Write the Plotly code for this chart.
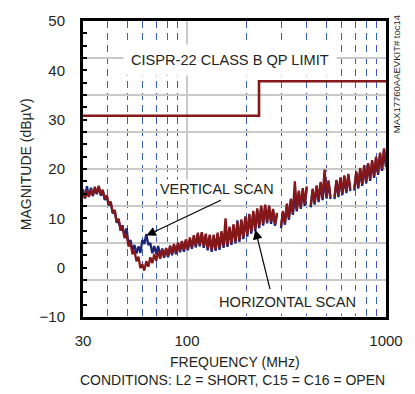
import math
import plotly.graph_objects as go

# Radiated emissions sweep, 30 MHz to 1 GHz
freq_mhz = [
    30.0, 30.7, 31.4, 32.1, 32.9, 33.6, 34.4, 35.2, 36.0, 36.9,
    37.7, 38.6, 39.5, 40.4, 41.3, 42.3, 43.3, 44.3, 45.3, 46.4,
    47.4, 48.5, 49.7, 50.8, 52.0, 53.2, 54.4, 55.7, 57.0, 58.3,
    59.6, 61.0, 62.4, 63.9, 65.4, 66.9, 68.4, 70.0, 71.6, 73.3,
    75.0, 76.7, 78.5, 80.3, 82.2, 84.1, 86.0, 88.0, 90.1, 92.2,
    94.3, 96.5, 98.7, 101.0, 103.4, 105.8, 108.2, 110.7, 113.3, 115.9,
    118.6, 121.4, 124.2, 127.0, 130.0, 133.0, 136.1, 139.2, 142.4, 145.7,
    149.1, 152.6, 156.1, 159.7, 163.4, 167.2, 171.1, 175.1, 179.1, 183.3,
    187.5, 191.9, 196.3, 200.9, 205.5, 210.3, 215.2, 220.2, 225.3, 230.5,
    235.8, 241.3, 246.9, 252.6, 258.5, 264.5, 270.6, 276.9, 283.3, 289.9,
    296.6, 303.5, 310.5, 317.7, 325.1, 332.6, 340.3, 348.2, 356.3, 364.6,
    373.0, 381.7, 390.5, 399.6, 408.8, 418.3, 428.0, 437.9, 448.1, 458.5,
    469.1, 480.0, 491.1, 502.5, 514.2, 526.1, 538.3, 550.8, 563.6, 576.6,
    590.0, 603.7, 617.7, 632.0, 646.7, 661.7, 677.0, 692.7, 708.8, 725.2,
    742.0, 759.3, 776.9, 794.9, 813.4, 832.3, 851.6, 871.3, 891.5, 912.2,
    933.4, 955.0, 977.2, 1000.0,
]

# Horizontal antenna polarisation (dBuV); None marks the band-switch gaps
horizontal_dbuv = [
    15.6, 14.1, 15.6, 14.4, 15.8, 14.7, 16.4, 15.1, 16.6, 14.8,
    15.8, 13.9, 14.7, 12.8, 13.4, 11.2, 11.7, 9.3, 9.9, 7.6,
    8.3, 6.0, 6.7, 4.3, 5.0, 2.7, 3.5, 1.3, 2.2, -0.1,
    0.7, -0.6, 1.3, 0.2, 2.1, 0.9, 2.7, 1.4, 3.3, 1.8,
    3.7, 2.2, 4.0, 2.4, 4.5, 2.8, 4.8, 3.0, 5.1, 3.4,
    5.4, 3.6, 5.7, 3.8, 6.1, 4.2, 6.6, 4.5, 7.1, 4.7,
    7.2, 4.4, 6.9, 3.9, 6.7, 3.6, 6.7, 3.8, 7.1, 4.0,
    7.4, 4.4, 10.0, 4.6, 8.3, 5.0, 8.8, 5.3, 9.2, 5.6,
    9.8, 6.2, 10.4, 6.7, 10.9, 7.3, 11.5, 7.8, 12.0, 8.4,
    12.6, 8.9, 12.8, 9.4, 12.6, 9.3, 11.9, 8.9, 11.1, None,
    8.4, 11.5, 9.1, 13.0, 10.1, 14.0, 11.1, 17.5, 11.8, 15.6,
    12.3, 16.1, 12.9, 16.5, None, 12.6, 16.0, 13.2, 16.7, 13.7,
    17.4, 14.1, 19.9, 14.4, 17.7, 14.3, None, 14.3, 17.8, 14.7,
    18.3, 15.1, 18.7, 15.5, 19.0, 15.9, None, 16.0, 19.5, 16.4,
    20.2, 17.0, 20.8, 17.5, 21.2, 18.0, 21.8, 18.6, 22.5, 19.2,
    23.3, 20.0, 24.2, 20.8,
]

# Vertical antenna polarisation (dBuV)
vertical_dbuv = [
    15.9, 14.0, 16.5, 14.3, 16.2, 14.5, 16.0, 14.9, 16.3, 14.6,
    15.5, 13.7, 14.5, 12.6, 13.3, 11.0, 11.5, 9.1, 9.7, 7.5,
    8.6, 6.3, 8.0, 4.6, 5.6, 3.4, 4.6, 2.9, 4.3, 3.0,
    5.6, 4.8, 6.8, 4.6, 5.0, 2.9, 4.4, 2.8, 4.4, 2.3,
    3.9, 2.0, 3.8, 2.1, 4.3, 2.5, 4.6, 2.7, 4.9, 3.1,
    5.2, 3.2, 5.6, 3.5, 5.8, 3.8, 6.4, 4.1, 6.8, 4.3,
    7.0, 4.0, 6.6, 3.5, 6.4, 3.2, 6.4, 3.4, 6.8, 3.6,
    7.1, 4.0, 8.0, 4.2, 8.0, 4.6, 8.6, 4.9, 9.6, 5.2,
    9.5, 5.8, 10.1, 6.3, 10.6, 6.9, 11.2, 7.4, 11.7, 8.0,
    12.3, 8.5, 12.5, 9.0, 12.3, 8.9, 11.6, 8.5, 10.8, None,
    8.0, 11.2, 8.7, 12.7, 9.7, 13.7, 10.7, 14.2, 11.4, 15.3,
    11.9, 15.8, 12.5, 16.2, None, 12.2, 15.7, 12.8, 16.4, 13.3,
    17.1, 13.7, 17.8, 14.0, 17.4, 13.9, None, 13.9, 17.5, 14.3,
    18.0, 14.7, 18.4, 15.1, 18.7, 15.5, None, 15.6, 19.2, 16.0,
    19.9, 16.6, 20.5, 17.1, 20.9, 17.6, 21.5, 18.2, 22.2, 18.8,
    23.0, 19.6, 23.9, 20.4,
]

# CISPR-22 class B quasi-peak limit
limit_freq_mhz = [30, 230, 1000]
limit_dbuv = [30.8, 37.8, 37.8]

# Axis ticks and grids
x_tick_vals = [30, 100, 1000]
x_tick_text = ["30", "100", "1000"]
x_dashed_grid = [40, 50, 60, 70, 80, 90, 200, 300, 400, 500, 600, 700, 800, 900]
y_range = [-10, 50]
x_range = [math.log10(30), math.log10(1000)]

# Arrow targets on the traces (MHz, dBuV)
vertical_arrow_at = (62.4, 6.5)
horizontal_arrow_at = (220.5, 7.7)

FONT = "Liberation Sans, Arial, sans-serif"
TEXT = "#231F20"
RED = "#861719"
NAVY = "#1D2577"

fig = go.Figure()

# carrier trace so the overlay grid axes are drawn
fig.add_trace(go.Scatter(x=[], y=[], xaxis="x2", yaxis="y2",
                         showlegend=False, hoverinfo="skip"))

fig.add_trace(go.Scatter(x=freq_mhz, y=vertical_dbuv, mode="lines",
                         line=dict(color=NAVY, width=2.3),
                         connectgaps=False, name="VERTICAL SCAN"))
fig.add_trace(go.Scatter(x=freq_mhz, y=horizontal_dbuv, mode="lines",
                         line=dict(color=RED, width=2.3),
                         connectgaps=False, name="HORIZONTAL SCAN"))
fig.add_trace(go.Scatter(x=limit_freq_mhz, y=limit_dbuv, mode="lines",
                         line=dict(color=RED, width=2.6, shape="hv"),
                         name="CISPR-22 CLASS B QP LIMIT"))

fig.update_layout(
    width=415, height=394,
    margin=dict(l=83, r=26, t=12, b=77),
    paper_bgcolor="white", plot_bgcolor="white",
    showlegend=False,
    font=dict(family=FONT, size=15, color=TEXT),
    xaxis=dict(
        type="log", range=x_range,
        tickmode="array", tickvals=x_tick_vals, ticktext=x_tick_text,
        showgrid=True, gridcolor="#C9C9C9", gridwidth=1.5,
        showline=True, linecolor="black", linewidth=3, mirror=True,
        ticks="", ticklabelstandoff=8, zeroline=False,
        tickfont=dict(size=15),
    ),
    xaxis2=dict(
        type="log", range=x_range, overlaying="x", anchor="y",
        tickmode="array", tickvals=x_dashed_grid,
        showticklabels=False, ticks="",
        showgrid=True, gridcolor="#3F5DBE", gridwidth=1,
        griddash="7px,5px", showline=False, zeroline=False,
    ),
    yaxis=dict(
        range=y_range, tick0=-10, dtick=10,
        showgrid=False, zeroline=False,
        showline=True, linecolor="black", linewidth=3, mirror=True,
        ticks="inside", ticklen=4, tickwidth=1.5, tickcolor="black",
        minor=dict(tick0=-10, dtick=2.5, ticks="inside", ticklen=4,
                   tickwidth=1.5, tickcolor="black", showgrid=False),
        ticklabelstandoff=12, tickfont=dict(size=15),
    ),
    yaxis2=dict(
        range=y_range, overlaying="y", anchor="x",
        tick0=-10, dtick=7.5, showticklabels=False, ticks="",
        showgrid=True, gridcolor="#C9C9C9", gridwidth=1.5,
        showline=False, zeroline=False,
    ),
)


def label(text, x, y, size, **extra):
    return dict(text=text, xref="paper", yref="paper", x=x, y=y,
                xanchor="center", yanchor="middle", showarrow=False,
                font=dict(size=size), **extra)


annotations = [
    label("CISPR-22 CLASS B QP LIMIT", 0.4837, 0.8689, 14.6,
          bgcolor="white", borderpad=7),
    label("VERTICAL SCAN", 0.4428, 0.4328, 14.4, bgcolor="white", borderpad=1),
    label("HORIZONTAL SCAN", 0.6765, 0.0492, 14.6, bgcolor="white", borderpad=3),
    dict(text="", x=math.log10(vertical_arrow_at[0]), y=vertical_arrow_at[1],
         xref="x", yref="y", ax=76, ay=-36, showarrow=True,
         arrowhead=2, arrowsize=1.6, arrowwidth=1.2, arrowcolor="black",
         standoff=0),
    dict(text="", x=math.log10(horizontal_arrow_at[0]), y=horizontal_arrow_at[1],
         xref="x", yref="y", ax=15, ay=61, showarrow=True,
         arrowhead=2, arrowsize=1.6, arrowwidth=1.2, arrowcolor="black",
         standoff=0),
    label("MAGNITUDE (dBµV)", -0.1895, 0.515, 14, textangle=-90),
    label("FREQUENCY (MHz)", 0.5, -0.1508, 14),
    label("CONDITIONS: L2 = SHORT, C15 = C16 = OPEN", 0.4935, -0.2131, 14),
    label("MAX17760AAEVKIT# toc14", 1.0327, 0.82, 9.5, textangle=-90),
]
fig.update_layout(annotations=annotations)

fig.write_html("out.html")
